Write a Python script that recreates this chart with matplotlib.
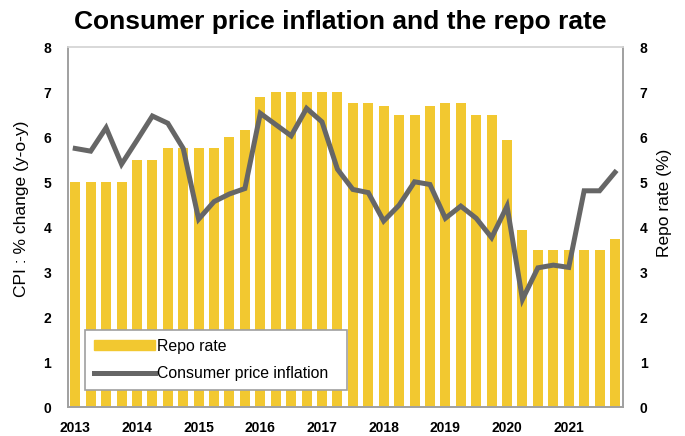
import numpy as np
import matplotlib
matplotlib.use("Agg")
import matplotlib.pyplot as plt
from matplotlib.lines import Line2D
from matplotlib.patches import Patch

plt.rcParams['font.family'] = ['Liberation Sans', 'DejaVu Sans']

# =========================
# DATA (quarterly, 2013Q1 - 2021Q4)
# =========================
years = ['2013', '2014', '2015', '2016', '2017', '2018', '2019', '2020', '2021']

repo_rate = [5.0, 5.0, 5.0, 5.0,
             5.5, 5.5, 5.75, 5.75,
             5.75, 5.75, 6.0, 6.17,
             6.9, 7.0, 7.0, 7.0,
             7.0, 7.0, 6.75, 6.75,
             6.7, 6.5, 6.5, 6.7,
             6.75, 6.75, 6.5, 6.5,
             5.93, 3.93, 3.5, 3.5,
             3.5, 3.5, 3.5, 3.75]

cpi = [5.75, 5.69, 6.21, 5.40,
       5.93, 6.47, 6.31, 5.75,
       4.18, 4.57, 4.74, 4.86,
       6.53, 6.28, 6.03, 6.64,
       6.34, 5.29, 4.84, 4.77,
       4.14, 4.49, 5.01, 4.95,
       4.20, 4.47, 4.20, 3.77,
       4.47, 2.40, 3.10, 3.16,
       3.11, 4.81, 4.81, 5.22]

x = np.arange(len(repo_rate))
bar_col = '#F2C830'
line_col = '#666666'
spine_col = '#A0A0A0'

# =========================
# PLOT
# =========================
fig = plt.figure(figsize=(6.85, 4.36), dpi=100)
ax = fig.add_axes([0.0993, 0.0654, 0.8102, 0.8266])

ax.bar(x, repo_rate, width=0.65, color=bar_col, zorder=2)
ax.plot(x, cpi, color=line_col, lw=3.6, zorder=3, solid_joinstyle='miter')

ax.set_xlim(-0.47, 35.52)
ax.set_ylim(0, 8)
ax.set_xticks(x[::4])
ax.set_xticklabels(years)
ax.set_yticks(range(9))

ax2 = ax.twinx()
ax2.set_ylim(0, 8)
ax2.set_yticks(range(9))

for a in (ax, ax2):
    for s in a.spines.values():
        s.set_color(spine_col)
        s.set_linewidth(1.2)
    a.tick_params(length=0, labelsize=10)
    for lab in a.get_xticklabels() + a.get_yticklabels():
        lab.set_fontweight('bold')
ax.spines['top'].set_color('#D8D8D8')
ax2.spines['top'].set_color('#D8D8D8')
ax.tick_params(axis='y', pad=12)
ax.tick_params(axis='x', pad=10)
ax2.tick_params(axis='y', pad=12)

ax.set_ylabel('CPI : % change (y-o-y)', fontsize=12.5)
ax.yaxis.set_label_coords(-0.083, 0.55)
ax.yaxis.label.set_verticalalignment('center')
ax2.set_ylabel('Repo rate (%)', fontsize=12.5)
ax2.yaxis.set_label_coords(1.074, 0.567)
ax2.yaxis.label.set_verticalalignment('center')

fig.suptitle('Consumer price inflation and the repo rate', fontsize=19,
             fontweight='bold', x=0.497, y=0.978)

handles = [Patch(color=bar_col, label='Repo rate'),
           Line2D([0], [0], color=line_col, lw=3.6, label='Consumer price inflation')]
leg = ax.legend(handles=handles, loc='lower left',
                bbox_to_anchor=(0.0306, 0.0485, 0.472, 0.2), mode='expand',
                borderaxespad=0, fontsize=11.4, fancybox=False, framealpha=1,
                edgecolor=spine_col, handlelength=3.9, handleheight=0.5,
                handletextpad=0.1, borderpad=0.55, labelspacing=0.8)
leg.get_frame().set_linewidth(1.2)
leg.set_zorder(5)

fig.savefig('out.png', dpi=100)
